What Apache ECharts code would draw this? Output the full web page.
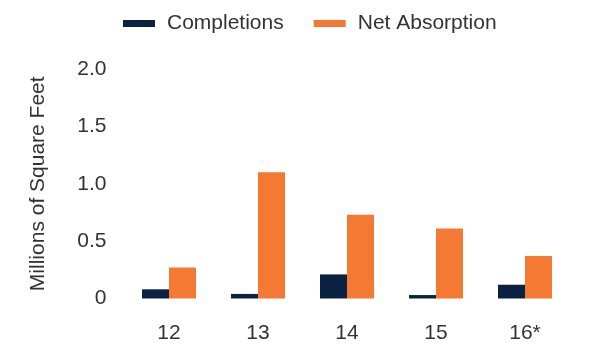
<!DOCTYPE html>
<html>
<head>
<meta charset="utf-8">
<script src="https://cdn.jsdelivr.net/npm/echarts@6/dist/echarts.min.js"></script>
<style>
  html, body { margin: 0; padding: 0; background: #fff; }
  #chart { width: 599px; height: 347px; }
</style>
</head>
<body>
<div id="chart"></div>
<script>
// Office market: completions vs. net absorption by year
const years = ['12', '13', '14', '15', '16*'];
const completions = [0.08, 0.04, 0.21, 0.03, 0.12];
const netAbsorption = [0.27, 1.1, 0.73, 0.61, 0.37];
const yTicks = { min: 0, max: 2.0, interval: 0.5 };

const FONT = '"Liberation Sans", Arial, sans-serif';
const TEXT = '#333333';
const FS = 21;

const chart = echarts.init(document.getElementById('chart'), null, { renderer: 'canvas' });
chart.setOption({
  animation: false,
  textStyle: { fontFamily: FONT, color: TEXT },
  legend: {
    top: 8,
    left: 118,
    itemWidth: 32,
    itemHeight: 7,
    itemGap: 30,
    icon: 'rect',
    textStyle: { fontFamily: FONT, fontSize: FS, color: TEXT, padding: [0, 0, 0, 7] },
    data: ['Completions', 'Net Absorption']
  },
  grid: { left: 124.5, right: 29.5, top: 69, bottom: 48.5, containLabel: false },
  xAxis: {
    type: 'category',
    data: years,
    axisLine: { show: false },
    axisTick: { show: false },
    axisLabel: { fontFamily: FONT, fontSize: FS, color: TEXT, margin: 24 }
  },
  yAxis: {
    type: 'value',
    min: yTicks.min,
    max: yTicks.max,
    interval: yTicks.interval,
    name: 'Millions of Square Feet',
    nameLocation: 'middle',
    nameGap: 76,
    nameRotate: 90,
    nameTextStyle: { fontFamily: FONT, fontSize: FS, color: TEXT },
    axisLine: { show: false },
    axisTick: { show: false },
    splitLine: { show: false },
    axisLabel: {
      fontFamily: FONT, fontSize: FS, color: TEXT, margin: 18,
      formatter: v => (v === 0 ? '0' : v.toFixed(1))
    }
  },
  series: [
    {
      name: 'Completions',
      type: 'bar',
      data: completions,
      barWidth: 27,
      barGap: '0%',
      itemStyle: { color: '#0b2141' }
    },
    {
      name: 'Net Absorption',
      type: 'bar',
      data: netAbsorption,
      barWidth: 27,
      barGap: '0%',
      itemStyle: { color: '#f47933' }
    }
  ]
});
</script>
</body>
</html>
